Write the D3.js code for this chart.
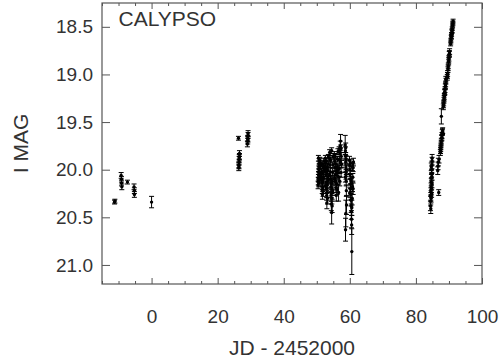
<!DOCTYPE html>
<html><head><meta charset="utf-8">
<script src="https://cdn.jsdelivr.net/npm/d3@7"></script>
<style>body{margin:0;background:#fff} svg{display:block}</style>
</head><body>
<svg id="c" width="501" height="364"></svg>
<script>
// Tick labels
const xTicks = [0, 20, 40, 60, 80, 100];
const yTicks = [18.5, 19.0, 19.5, 20.0, 20.5, 21.0];
const xMinorTicks = [-15, -10, -5, 5, 10, 15, 25, 30, 35, 45, 50, 55, 65, 70, 75, 85, 90, 95];

// Observations: [JD - 2452000, I mag, error]
const runDec = [
  [-11.2, 20.34, 0.02], [-11.1, 20.33, 0.02],
  [-9.2, 20.06, 0.03], [-9.1, 20.10, 0.03], [-9.1, 20.14, 0.03], [-9.0, 20.18, 0.03],
  [-7.3, 20.13, 0.02],
  [-5.3, 20.18, 0.03], [-5.2, 20.22, 0.03], [-5.2, 20.26, 0.03],
  [0.0, 20.34, 0.06]
];
const runJan = [
  [26.3, 19.67, 0.02],
  [26.4, 19.98, 0.03], [26.4, 19.95, 0.03], [26.5, 19.92, 0.03], [26.5, 19.89, 0.03],
  [26.6, 19.86, 0.03], [26.6, 19.83, 0.03], [26.45, 19.96, 0.03], [26.55, 19.87, 0.03],
  [29.0, 19.73, 0.03], [29.1, 19.70, 0.03], [29.1, 19.67, 0.03], [29.2, 19.64, 0.03], [29.2, 19.62, 0.03],
  [29.15, 19.68, 0.03]
];
const runFeb = [
  [50.4, 20.16, 0.04], [50.45, 20.12, 0.04], [50.5, 20.09, 0.04], [50.55, 20.05, 0.03], [50.6, 20.02, 0.03],
  [50.65, 19.99, 0.03], [50.7, 19.97, 0.03], [50.75, 19.94, 0.03], [50.8, 19.91, 0.03], [50.9, 19.90, 0.03],
  [51.0, 19.93, 0.03], [51.1, 19.96, 0.03],
  [50.5, 19.88, 0.03], [50.6, 20.14, 0.04], [50.7, 20.07, 0.04], [50.85, 20.03, 0.03], [51.0, 20.10, 0.04],
  [51.5, 20.02, 0.03], [51.55, 20.08, 0.04], [51.6, 20.14, 0.04], [51.65, 20.21, 0.04], [51.7, 20.26, 0.05],
  [51.8, 20.19, 0.04], [51.85, 20.11, 0.04], [51.9, 20.04, 0.03], [52.0, 19.98, 0.03], [52.1, 19.96, 0.03],
  [52.2, 20.00, 0.03],
  [51.6, 19.94, 0.03], [51.75, 20.13, 0.04], [51.9, 20.23, 0.05], [52.05, 20.09, 0.04], [52.15, 19.91, 0.03],
  [52.6, 19.88, 0.03], [52.65, 19.93, 0.03], [52.7, 19.99, 0.03], [52.8, 20.06, 0.04], [52.85, 20.13, 0.04],
  [52.9, 20.20, 0.05], [53.0, 20.27, 0.05], [53.05, 20.35, 0.06], [53.1, 20.24, 0.05], [53.2, 20.16, 0.04],
  [53.3, 20.09, 0.04], [53.35, 20.01, 0.03], [53.4, 19.94, 0.03], [53.5, 19.87, 0.03],
  [52.7, 20.17, 0.04], [52.8, 19.91, 0.03], [52.95, 20.03, 0.04], [53.15, 19.97, 0.03], [53.25, 20.30, 0.06],
  [53.45, 20.11, 0.04],
  [53.9, 19.82, 0.03], [54.0, 19.88, 0.03], [54.05, 19.95, 0.03], [54.1, 20.02, 0.04], [54.2, 20.10, 0.04],
  [54.25, 20.18, 0.05], [54.3, 20.27, 0.06], [54.4, 20.36, 0.07], [54.5, 20.45, 0.12], [54.55, 20.30, 0.06],
  [54.6, 20.20, 0.05], [54.7, 20.12, 0.04], [54.8, 20.03, 0.04], [54.9, 19.95, 0.03], [55.0, 19.86, 0.03],
  [54.0, 20.06, 0.04], [54.15, 19.90, 0.03], [54.35, 20.14, 0.05], [54.5, 19.80, 0.03], [54.65, 20.38, 0.07],
  [54.85, 20.22, 0.05],
  [55.3, 19.84, 0.03], [55.4, 19.91, 0.03], [55.5, 19.98, 0.04], [55.6, 20.05, 0.04], [55.7, 20.12, 0.04],
  [55.8, 20.19, 0.05], [55.9, 20.27, 0.06], [56.0, 20.15, 0.04], [56.1, 20.06, 0.04], [56.2, 19.97, 0.03],
  [56.3, 19.89, 0.03], [56.4, 19.81, 0.03],
  [55.4, 20.10, 0.04], [55.55, 19.86, 0.03], [55.75, 19.94, 0.03], [55.95, 20.02, 0.04], [56.15, 20.21, 0.05],
  [56.35, 20.00, 0.04],
  [56.6, 20.24, 0.09], [56.7, 20.08, 0.05], [56.8, 19.99, 0.04], [56.9, 19.90, 0.04], [57.0, 19.82, 0.04],
  [57.1, 19.75, 0.05], [57.2, 19.70, 0.07], [57.3, 19.78, 0.04], [57.4, 19.86, 0.04], [57.5, 19.94, 0.04],
  [56.75, 19.80, 0.04], [56.95, 20.12, 0.05], [57.15, 19.92, 0.04], [57.35, 20.03, 0.05],
  [58.6, 19.74, 0.10], [58.65, 19.80, 0.04], [58.7, 19.86, 0.04], [58.75, 19.92, 0.04], [58.8, 19.98, 0.04],
  [58.85, 20.05, 0.05], [58.9, 20.12, 0.05], [58.95, 20.22, 0.06], [59.0, 20.37, 0.10], [58.8, 20.46, 0.14],
  [58.7, 20.63, 0.12],
  [58.65, 20.08, 0.05], [58.75, 19.77, 0.05], [58.85, 19.89, 0.04], [58.95, 20.00, 0.05],
  [59.9, 19.90, 0.04], [60.0, 19.95, 0.04], [60.05, 20.00, 0.04], [60.1, 20.05, 0.04], [60.15, 20.10, 0.05],
  [60.2, 20.15, 0.05], [60.25, 20.20, 0.05], [60.3, 20.26, 0.06], [60.35, 20.32, 0.06], [60.4, 20.38, 0.07],
  [60.45, 20.44, 0.08], [60.5, 20.52, 0.09], [60.55, 20.58, 0.10], [60.6, 20.86, 0.24], [60.7, 20.30, 0.07],
  [60.8, 20.18, 0.05], [60.9, 20.08, 0.04], [61.0, 19.98, 0.04], [61.1, 19.92, 0.04],
  [60.0, 20.24, 0.05], [60.2, 19.93, 0.04], [60.4, 20.12, 0.05], [60.6, 20.40, 0.08], [60.8, 19.97, 0.04],
  [61.0, 20.20, 0.06]
];
const runMar = [
  [84.4, 20.38, 0.05], [84.45, 20.33, 0.05], [84.5, 20.28, 0.04], [84.55, 20.23, 0.04], [84.6, 20.18, 0.04],
  [84.65, 20.13, 0.04], [84.7, 20.09, 0.04], [84.75, 20.04, 0.04], [84.8, 20.00, 0.04], [84.85, 19.95, 0.04],
  [84.9, 19.91, 0.04], [84.6, 20.30, 0.04], [84.7, 20.20, 0.04], [84.8, 20.07, 0.04],
  [84.5, 20.41, 0.05], [84.65, 19.97, 0.04], [84.75, 20.25, 0.04], [84.85, 20.15, 0.04], [84.9, 19.88, 0.04],
  [86.6, 20.01, 0.04], [86.7, 19.96, 0.04], [86.8, 19.92, 0.04], [86.9, 20.24, 0.03], [87.0, 19.89, 0.04],
  [87.4, 19.82, 0.03], [87.5, 19.78, 0.03], [87.6, 19.74, 0.03], [87.7, 19.70, 0.03], [87.8, 19.67, 0.03],
  [87.9, 19.64, 0.03], [88.0, 19.61, 0.03], [88.1, 19.59, 0.03],
  [87.45, 19.80, 0.03], [87.65, 19.72, 0.03], [87.85, 19.66, 0.03], [88.05, 19.60, 0.03], [87.55, 19.76, 0.03],
  [87.7, 19.44, 0.08],
  [88.3, 19.34, 0.03], [88.4, 19.30, 0.03], [88.5, 19.27, 0.03], [88.6, 19.23, 0.03], [88.7, 19.19, 0.03],
  [88.8, 19.16, 0.03], [88.9, 19.13, 0.03], [89.0, 19.10, 0.03], [89.1, 19.07, 0.03],
  [88.35, 19.32, 0.03], [88.55, 19.25, 0.03], [88.75, 19.18, 0.03], [88.95, 19.12, 0.03], [89.05, 19.05, 0.03],
  [89.5, 19.03, 0.03], [89.6, 18.99, 0.03], [89.7, 18.95, 0.03], [89.8, 18.91, 0.03], [89.9, 18.87, 0.03],
  [90.0, 18.83, 0.03], [90.1, 18.79, 0.03], [90.2, 18.76, 0.03],
  [89.55, 19.01, 0.03], [89.75, 18.93, 0.03], [89.95, 18.85, 0.03], [90.15, 18.78, 0.03],
  [90.5, 18.68, 0.02], [90.6, 18.64, 0.02], [90.7, 18.61, 0.02], [90.8, 18.58, 0.02], [90.9, 18.55, 0.02],
  [91.0, 18.52, 0.02], [91.1, 18.49, 0.02], [91.2, 18.46, 0.02],
  [90.55, 18.66, 0.02], [90.75, 18.60, 0.02], [90.95, 18.54, 0.02], [91.15, 18.47, 0.02], [91.25, 18.44, 0.02]
];

const labelTitle = "CALYPSO";
const xTitle = "JD - 2452000";
const yTitle = "I MAG";

const svg = d3.select("#c");
const x = d3.scaleLinear().domain([-15, 100]).range([102, 482]);
const y = d3.scaleLinear().domain([18.25, 21.2]).range([3, 284]);
const frameColor = "#555";
const textColor = "#333";
const font = "'Liberation Sans', Arial, Helvetica, sans-serif";

function styleAxis(g) {
  g.select(".domain").remove();
  g.selectAll(".tick line").attr("stroke", frameColor).attr("stroke-width", 1);
  g.selectAll(".tick text").attr("fill", textColor).style("font-family", font).style("font-size", "19px");
}

// bottom
svg.append("g").attr("transform", "translate(0,284)")
  .call(d3.axisBottom(x).tickValues(xTicks).tickSize(-6).tickPadding(26).tickFormat(d3.format("d")))
  .call(styleAxis);
svg.append("g").attr("transform", "translate(0,284)")
  .call(d3.axisBottom(x).tickValues(xMinorTicks).tickSize(-3).tickFormat(""))
  .call(styleAxis);
// top
svg.append("g").attr("transform", "translate(0,3)")
  .call(d3.axisTop(x).tickValues(xTicks).tickSize(-6).tickFormat(""))
  .call(styleAxis);
svg.append("g").attr("transform", "translate(0,3)")
  .call(d3.axisTop(x).tickValues(xMinorTicks).tickSize(-3).tickFormat(""))
  .call(styleAxis);
// left
svg.append("g").attr("transform", "translate(102,0)")
  .call(d3.axisLeft(y).tickValues(yTicks).tickSize(-8).tickPadding(9).tickFormat(d3.format(".1f")))
  .call(styleAxis);
// right
svg.append("g").attr("transform", "translate(482,0)")
  .call(d3.axisRight(y).tickValues(yTicks).tickSize(-8).tickFormat(""))
  .call(styleAxis);

// frame
svg.append("rect").attr("x", 102).attr("y", 3).attr("width", 380).attr("height", 281)
  .attr("fill", "none").attr("stroke", frameColor).attr("stroke-width", 1.2);

// data
const all = [].concat(runDec, runJan, runFeb, runMar);
const gData = svg.append("g");
const cap = 2.5;
all.forEach(([t, m, e]) => {
  const px = x(t), y0 = y(m - e), y1 = y(m + e);
  gData.append("line").attr("x1", px).attr("x2", px).attr("y1", y0).attr("y2", y1)
    .attr("stroke", "#000").attr("stroke-width", 1);
  gData.append("line").attr("x1", px - cap).attr("x2", px + cap).attr("y1", y0).attr("y2", y0)
    .attr("stroke", "#000").attr("stroke-width", 1);
  gData.append("line").attr("x1", px - cap).attr("x2", px + cap).attr("y1", y1).attr("y2", y1)
    .attr("stroke", "#000").attr("stroke-width", 1);
  gData.append("circle").attr("cx", px).attr("cy", y(m)).attr("r", 1.7).attr("fill", "#000");
});

// texts
svg.append("text").attr("x", 118.5).attr("y", 26).text(labelTitle)
  .attr("fill", textColor).style("font-family", font).style("font-size", "21px");
svg.append("text").attr("x", 292).attr("y", 355).attr("text-anchor", "middle").text(xTitle)
  .attr("fill", textColor).style("font-family", font).style("font-size", "21px");
svg.append("text").attr("transform", "translate(27.5,143.5) rotate(-90)").attr("text-anchor", "middle").text(yTitle)
  .attr("fill", textColor).style("font-family", font).style("font-size", "21px");
</script>
</body></html>
